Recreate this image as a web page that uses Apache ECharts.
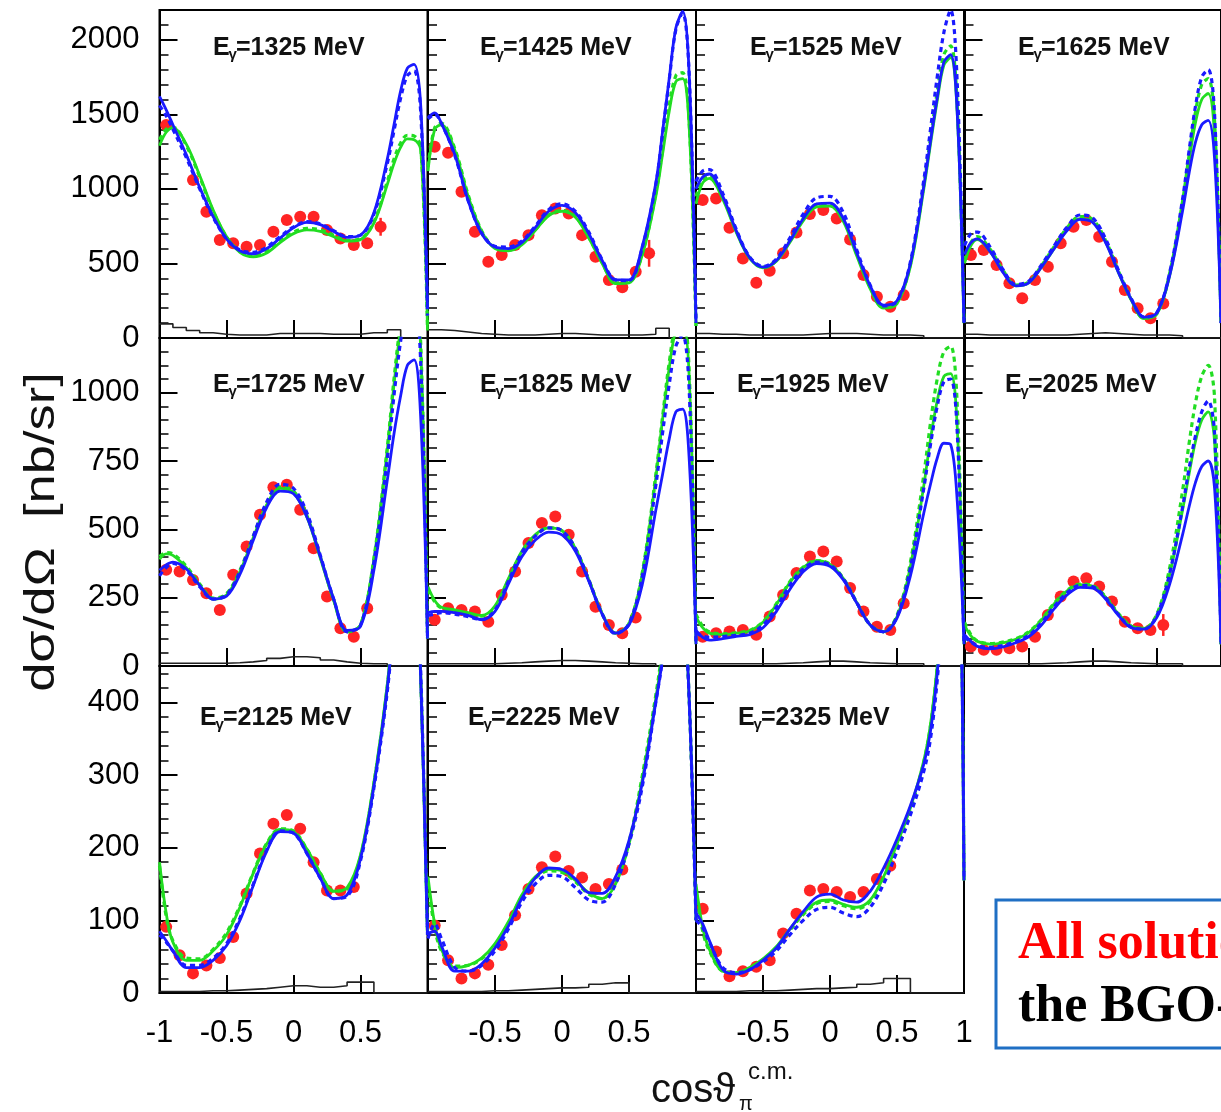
<!DOCTYPE html>
<html>
<head>
<meta charset="utf-8">
<script src="https://cdn.jsdelivr.net/npm/echarts@6/dist/echarts.min.js"></script>
<style>
html, body { margin: 0; padding: 0; background: #fff; }
#chart { width: 1221px; height: 1112px; }
</style>
</head>
<body>
<div id="chart"></div>
<script>
// Photon energies of the eleven panels (MeV)
const energies = [1325, 1425, 1525, 1625, 1725, 1825, 1925, 2025, 2125, 2225, 2325];

// cos(theta) grid on which the model curves are tabulated
const curveX = [-1, -0.95, -0.9, -0.8, -0.7, -0.6, -0.5, -0.4, -0.3, -0.2, -0.1, 0, 0.1, 0.2, 0.3, 0.4, 0.5, 0.6, 0.7, 0.75, 0.8, 0.85, 0.9, 0.95, 1];

// Model curves [nb/sr]: blue solid (bs), blue dashed (bd), green solid (gs), green dashed (gd)
const bs1325 = [1620,1530,1430,1230,1010,815,665,585,565,600,670,740,775,760,715,675,690,840,1200,1430,1660,1810,1835,1550,200];
const bd1325 = [1560,1490,1400,1210,1000,810,665,590,575,610,680,745,780,765,720,680,690,830,1170,1390,1610,1760,1790,1500,150];
const gs1325 = [1290,1380,1410,1300,1090,860,680,575,545,570,640,700,725,715,680,650,660,770,1030,1170,1280,1335,1330,1260,50];
const gd1325 = [1330,1400,1415,1290,1080,850,680,580,555,585,650,710,735,725,690,655,665,780,1050,1200,1310,1360,1355,1280,60];

const bs1425 = [1480,1510,1440,1230,920,700,610,600,640,740,850,890,840,700,520,390,390,620,1040,1380,1740,2080,2190,1750,100];
const bd1425 = [1470,1500,1440,1225,920,705,615,610,650,750,860,900,850,710,525,390,385,610,1030,1370,1730,2070,2180,1750,100];
const gs1425 = [1120,1400,1430,1260,950,715,600,585,625,720,820,850,810,670,500,365,370,560,950,1230,1520,1720,1740,1400,80];
const gd1425 = [1150,1410,1440,1270,960,720,605,590,630,725,825,855,815,675,505,370,375,570,970,1260,1560,1760,1780,1430,80];

const bs1525 = [1000,1080,1100,950,720,540,475,520,650,800,900,905,800,570,350,220,250,500,1020,1320,1610,1850,1900,1500,100];
const bd1525 = [1050,1120,1130,970,730,545,480,530,670,830,940,950,840,590,355,215,245,510,1060,1400,1750,2050,2200,1700,100];
const gs1525 = [900,1040,1070,930,710,535,470,515,640,785,880,885,780,550,330,200,230,480,1000,1300,1590,1830,1880,1500,100];
const gd1525 = [950,1060,1090,945,720,540,475,520,650,800,895,900,795,565,340,205,240,495,1030,1340,1650,1900,1960,1550,100];

const bs1625 = [560,640,665,580,440,350,370,475,600,720,795,775,640,440,260,140,170,420,850,1100,1310,1430,1460,1200,100];
const bd1625 = [620,700,710,610,460,360,380,490,620,745,825,805,665,455,265,140,170,440,930,1250,1550,1750,1800,1500,100];
const gs1625 = [500,620,660,580,445,350,370,475,600,725,800,780,645,440,255,130,160,420,890,1180,1440,1600,1640,1350,100];
const gd1625 = [520,640,680,595,455,355,375,485,615,740,815,795,655,450,260,135,165,435,915,1220,1510,1700,1740,1450,100];

const bs1725 = [350,370,380,355,295,245,255,335,460,580,640,630,545,400,245,130,145,350,680,850,990,1100,1120,900,100];
const bd1725 = [330,360,375,350,290,245,260,345,475,600,665,650,560,405,245,125,150,380,760,990,1190,1320,1340,1100,100];
const gs1725 = [390,410,405,360,295,245,260,345,470,590,650,635,545,395,240,125,150,390,790,1030,1240,1380,1400,1150,100];
const gd1725 = [400,415,410,365,300,248,265,350,475,595,655,640,550,400,242,125,150,395,800,1050,1260,1400,1420,1170,100];

const bs1825 = [195,200,200,195,185,170,200,300,400,460,490,480,420,310,190,120,150,300,570,700,830,930,940,750,80];
const bd1825 = [185,190,195,190,180,170,205,310,415,475,505,495,430,315,190,118,155,330,660,850,1030,1170,1210,1000,80];
const gs1825 = [290,240,215,205,195,185,220,320,420,480,505,495,430,315,192,120,155,340,690,900,1090,1230,1260,1050,80];
const gd1825 = [280,235,212,200,190,182,215,315,415,478,505,495,430,315,192,120,155,345,700,910,1110,1250,1280,1070,80];

const bs1925 = [130,105,95,100,108,115,140,200,280,345,375,365,315,230,150,125,175,330,560,665,760,815,810,600,80];
const bd1925 = [120,110,105,108,112,120,150,215,295,355,380,370,318,232,150,125,180,360,650,810,950,1040,1050,850,80];
const gs1925 = [180,140,120,115,120,128,160,225,305,360,385,372,320,232,150,125,180,365,660,830,970,1060,1070,870,80];
const gd1925 = [190,145,125,118,122,130,162,228,308,362,386,373,320,232,150,126,185,380,700,890,1050,1150,1170,950,80];

const bs2025 = [115,90,72,63,70,85,107,150,210,260,288,285,245,185,140,135,178,300,480,580,670,730,750,650,80];
const bd2025 = [105,88,75,68,75,90,112,158,218,268,295,290,250,188,142,135,185,340,580,720,840,930,970,850,80];
const gs2025 = [150,110,90,80,85,98,122,168,228,275,298,292,252,190,145,138,185,335,570,700,820,900,930,820,80];
const gd2025 = [160,115,92,82,88,100,125,170,230,277,300,294,254,192,146,138,190,360,640,810,960,1060,1100,980,80];

const bs2125 = [85,72,58,35,35,45,65,100,148,195,222,220,192,158,130,135,185,285,420,520,620,700,650,430,80];
const bd2125 = [80,70,58,38,38,48,68,103,150,197,223,220,192,158,130,133,182,282,415,515,615,700,660,440,80];
const gs2125 = [180,110,70,45,45,58,80,118,165,205,225,222,198,165,140,145,190,290,425,525,625,700,650,430,80];
const gd2125 = [175,105,72,48,47,60,83,120,166,206,226,223,198,165,140,143,188,288,422,522,622,700,650,430,80];

const bs2225 = [82,85,65,30,30,40,62,92,130,158,172,170,157,138,137,160,210,290,400,460,550,600,560,400,100];
const bd2225 = [75,95,75,35,30,38,58,88,125,150,162,160,145,128,125,150,205,285,400,460,550,600,560,400,100];
const gs2225 = [160,95,60,35,38,48,68,98,135,160,170,168,155,138,130,150,205,295,405,470,555,600,560,400,100];
const gd2225 = [150,90,58,37,38,47,66,96,133,158,168,166,153,136,130,152,208,300,410,475,560,600,560,400,100];

const bs2325 = [110,95,72,32,26,32,45,62,88,112,132,136,128,125,140,172,212,258,315,360,440,560,650,650,155];
const bd2325 = [100,90,70,35,28,32,43,58,80,100,115,118,110,105,118,150,195,245,305,350,430,550,650,650,155];
const gs2325 = [150,90,60,30,28,35,47,64,88,110,125,128,122,118,128,160,205,255,320,370,450,570,660,660,155];
const gd2325 = [140,85,58,30,28,34,46,62,86,108,123,126,120,116,126,158,202,252,318,368,448,568,660,660,155];

// Measured points: cos(theta) bin centres and cross sections [nb/sr]
const dataXWide = [-0.95,-0.85,-0.75,-0.65,-0.55,-0.45,-0.35,-0.25,-0.15,-0.05,0.05,0.15,0.25,0.35,0.45,0.55,0.65];
const dataXNarrow = [-0.95,-0.85,-0.75,-0.65,-0.55,-0.45,-0.35,-0.25,-0.15,-0.05,0.05,0.15,0.25,0.35,0.45];

const pts1325 = [1428,null,1059,847,657,635,612,623,713,791,813,813,724,668,623,635,746];
const pts1425 = [1282,1242,981,713,511,556,623,690,824,869,835,690,545,389,340,445,568];
const pts1525 = [925,936,739,534,371,451,568,708,831,858,802,661,422,277,210,288,null];
const pts1625 = [556,590,489,367,266,389,478,635,746,791,679,511,322,199,132,232,null];
const pts1725 = [352,346,315,266,205,334,437,553,654,663,572,431,254,138,107,211,null];
const pts1825 = [169,211,205,199,162,260,346,450,523,547,480,346,217,150,120,177,null];
const pts1925 = [107,120,126,132,114,181,260,340,401,419,382,285,199,144,132,230,null];
const pts2025 = [71,59,59,65,71,107,187,254,309,321,291,236,162,138,132,150,null];
const pts2125 = [91,52,27,38,48,77,137,192,233,245,226,180,141,141,146];
const pts2225 = [93,45,20,27,39,66,107,143,173,188,168,159,143,150,170];
const pts2325 = [116,57,23,30,36,45,82,109,141,143,139,132,139,157,175];

// Visible statistical errors: [panel index, point index, error in nb/sr]
const errorBars = [[0, 16, 60], [1, 16, 90], [7, 15, 40]];

// Systematic-error histograms, 20 bins of width 0.1 from cos = -1
const histEdges = [-1,-0.9,-0.8,-0.7,-0.6,-0.5,-0.4,-0.3,-0.2,-0.1,0,0.1,0.2,0.3,0.4,0.5,0.6,0.7,0.8,0.9,1];
const hist1325 = [95,70,50,35,25,20,20,20,30,30,30,30,25,25,25,35,35,55,0,0];
const hist1425 = [55,50,40,30,25,20,20,20,25,30,30,25,20,20,20,20,25,65,0,0];
const hist1525 = [30,25,25,20,20,20,20,20,25,30,30,30,25,20,20,20,15,0,0,0];
const hist1625 = [25,20,20,20,20,20,20,20,25,30,35,30,25,20,20,20,15,0,0,0];
const hist1725 = [10,10,10,10,10,12,15,20,28,34,34,30,22,15,10,8,8,0,0,0];
const hist1825 = [8,8,8,8,8,10,12,15,18,20,20,18,15,12,10,8,8,0,0,0];
const hist1925 = [8,8,8,8,8,8,10,12,15,18,18,15,12,10,8,8,8,0,0,0];
const hist2025 = [8,8,8,8,8,8,10,12,15,18,18,15,12,10,8,8,8,0,0,0];
const hist2125 = [2,2,2,3,3,4,5,6,8,10,10,8,8,10,15,15,0,0,0,0];
const hist2225 = [2,2,2,2,3,3,4,5,6,7,7,8,12,14,14,0,0,0,0,0];
const hist2325 = [2,2,2,3,3,3,4,5,6,6,7,8,12,14,20,20,0,0,0,0];

// Y-axis tick labels per row
const yTicksRow1 = [0, 500, 1000, 1500, 2000];
const yTicksRow2 = [0, 250, 500, 750, 1000];
const yTicksRow3 = [0, 100, 200, 300, 400];

const blueSolid = [bs1325, bs1425, bs1525, bs1625, bs1725, bs1825, bs1925, bs2025, bs2125, bs2225, bs2325];
const blueDashed = [bd1325, bd1425, bd1525, bd1625, bd1725, bd1825, bd1925, bd2025, bd2125, bd2225, bd2325];
const greenSolid = [gs1325, gs1425, gs1525, gs1625, gs1725, gs1825, gs1925, gs2025, gs2125, gs2225, gs2325];
const greenDashed = [gd1325, gd1425, gd1525, gd1625, gd1725, gd1825, gd1925, gd2025, gd2125, gd2225, gd2325];
const points = [pts1325, pts1425, pts1525, pts1625, pts1725, pts1825, pts1925, pts2025, pts2125, pts2225, pts2325];
const hists = [hist1325, hist1425, hist1525, hist1625, hist1725, hist1825, hist1925, hist2025, hist2125, hist2225, hist2325];
const yTicks = [yTicksRow1, yTicksRow2, yTicksRow3];

// ---- layout ----
const SANS = '"Liberation Sans", Arial, Helvetica, sans-serif';
const SERIF = '"Liberation Serif", "Times New Roman", serif';
const colLeft = [159.5, 428, 696, 964.5];
const rowTop = [10, 338, 666];
const rowHeight = [328, 328, 327];
const panelWidth = 268;
const rowMax = [2200, 1200, 450];
const rowStep = [500, 250, 100];
const labelPos = [[213,48],[480,48],[750,48],[1018,48],[213,385],[480,385],[737,385],[1005,385],[200,718],[468,718],[738,718]];

const BLUE = '#1a1aff';
const GREEN = '#22dd22';
const RED = '#ff2424';

const grids = [], xAxes = [], yAxes = [], series = [], graphics = [];

energies.forEach((e, i) => {
  const row = Math.floor(i / 4), col = i % 4;
  grids.push({
    left: colLeft[col], top: rowTop[row], width: panelWidth, height: rowHeight[row],
    show: true, borderColor: '#000', borderWidth: 2, backgroundColor: 'transparent'
  });
  const showX = row === 2;
  xAxes.push({
    gridIndex: i, type: 'value', min: -1, max: 1, interval: 0.5,
    axisLine: { show: true, onZero: false, lineStyle: { color: '#000', width: 2 } },
    axisTick: { show: true, inside: true, length: 18, lineStyle: { color: '#000', width: 2 } },
    splitLine: { show: false },
    axisLabel: {
      show: showX, margin: 25, color: '#000', fontFamily: SANS, fontSize: 31,
      formatter: v => {
        if (col === 0 && v === 1) return '';
        if (col === 1 && (v === -1 || v === 1)) return '';
        if (col === 2 && v === -1) return '';
        return String(v).replace('\u2212', '-');
      }
    }
  });
  const ticks = yTicks[row];
  yAxes.push({
    gridIndex: i, type: 'value', min: 0, max: rowMax[row], interval: rowStep[row],
    axisLine: { show: true, onZero: false, lineStyle: { color: '#000', width: 2 } },
    axisTick: { show: true, inside: true, length: 18, lineStyle: { color: '#000', width: 2 } },
    minorTick: { show: true, splitNumber: 5, length: 9, lineStyle: { color: '#000', width: 1.5 } },
    splitLine: { show: false }, minorSplitLine: { show: false },
    axisLabel: {
      show: col === 0, margin: 20, color: '#000', fontFamily: SANS, fontSize: 31,
      formatter: v => ticks.indexOf(v) >= 0 ? String(v) : ''
    }
  });

  // systematic histogram (step line)
  const h = hists[i];
  const hData = histEdges.map((x, k) => [x, k < h.length ? h[k] : h[h.length - 1]]);
  series.push({
    type: 'line', xAxisIndex: i, yAxisIndex: i, step: 'end', data: hData,
    showSymbol: false, symbol: 'none', clip: true, z: 2,
    lineStyle: { color: '#222', width: 1.6 }, silent: true
  });

  // measured points
  const px = row === 2 ? dataXNarrow : dataXWide;
  const pData = [];
  points[i].forEach((v, k) => { if (v !== null) pData.push([px[k], v]); });
  series.push({
    type: 'scatter', xAxisIndex: i, yAxisIndex: i, data: pData,
    symbol: 'circle', symbolSize: 12, itemStyle: { color: RED, opacity: 1 }, z: 3, clip: true, silent: true
  });

  // error bars
  const eData = errorBars.filter(b => b[0] === i).map(b => [px[b[1]], points[i][b[1]], b[2]]);
  if (eData.length) {
    series.push({
      type: 'custom', xAxisIndex: i, yAxisIndex: i, data: eData, z: 3, silent: true,
      renderItem: (params, api) => {
        const x = api.value(0), y = api.value(1), er = api.value(2);
        const a = api.coord([x, y - er]), b = api.coord([x, y + er]);
        return { type: 'line', shape: { x1: a[0], y1: a[1], x2: b[0], y2: b[1] }, style: { stroke: RED, lineWidth: 2.5 } };
      }
    });
  }

  // model curves
  const curve = (vals, color, dashed, z) => ({
    type: 'line', xAxisIndex: i, yAxisIndex: i,
    data: curveX.map((x, k) => [x, vals[k]]),
    smooth: 0.35, showSymbol: false, symbol: 'none', clip: true, z: z, silent: true,
    lineStyle: { color: color, width: dashed ? 3.2 : 2.8, type: dashed ? [5, 4] : 'solid' }
  });
  series.push(curve(greenSolid[i], GREEN, false, 4));
  series.push(curve(greenDashed[i], GREEN, true, 5));
  series.push(curve(blueSolid[i], BLUE, false, 6));
  series.push(curve(blueDashed[i], BLUE, true, 7));

  // panel caption  E_gamma = ... MeV
  const [lx, ly] = labelPos[i];
  graphics.push({
    type: 'group', x: lx, y: ly, z: 20,
    children: [
      { type: 'text', x: 0, y: 0, style: { text: 'E', font: 'bold 25px ' + SANS, fill: '#111', textAlign: 'left', textVerticalAlign: 'middle', align: 'left', verticalAlign: 'middle' } },
      { type: 'text', x: 15.5, y: 7, style: { text: '\u03b3', font: 'bold 15px ' + SANS, fill: '#111', textAlign: 'left', textVerticalAlign: 'middle', align: 'left', verticalAlign: 'middle' } },
      { type: 'text', x: 23, y: 0, style: { text: '=' + e + ' MeV', font: 'bold 25px ' + SANS, fill: '#111', textAlign: 'left', textVerticalAlign: 'middle', align: 'left', verticalAlign: 'middle' } }
    ]
  });
});

// axis titles
graphics.push({
  type: 'text', x: 42, y: 532, rotation: Math.PI / 2, scaleX: 1.25, z: 20,
  style: { text: 'd\u03c3/d\u03a9  [nb/sr]', font: '42px ' + SANS, fill: '#111', textAlign: 'center', textVerticalAlign: 'middle', align: 'center', verticalAlign: 'middle' }
});
graphics.push({
  type: 'group', x: 651, y: 1091, z: 20,
  children: [
    { type: 'text', x: 0, y: 0, style: { text: 'cos\u03d1', font: '40px ' + SANS, fill: '#111', textAlign: 'left', textVerticalAlign: 'middle', align: 'left', verticalAlign: 'middle' } },
    { type: 'text', x: 88, y: 13, style: { text: '\u03c0', font: '20px ' + SANS, fill: '#111', textAlign: 'left', textVerticalAlign: 'middle', align: 'left', verticalAlign: 'middle' } },
    { type: 'text', x: 97, y: -19, style: { text: 'c.m.', font: '24px ' + SANS, fill: '#111', textAlign: 'left', textVerticalAlign: 'middle', align: 'left', verticalAlign: 'middle' } }
  ]
});

// annotation box
graphics.push({
  type: 'rect', z: 30, shape: { x: 996, y: 900, width: 420, height: 148 },
  style: { fill: '#fff', stroke: '#1f6fc4', lineWidth: 3 }
});
graphics.push({
  type: 'text', x: 1018, y: 945, z: 31,
  style: { text: 'All solutions describe', font: 'bold 52px ' + SERIF, fill: '#ff0000', textAlign: 'left', textVerticalAlign: 'middle', align: 'left', verticalAlign: 'middle' }
});
graphics.push({
  type: 'text', x: 1018, y: 1008, z: 31,
  style: { text: 'the BGO-OD data', font: 'bold 52px ' + SERIF, fill: '#000', textAlign: 'left', textVerticalAlign: 'middle', align: 'left', verticalAlign: 'middle' }
});

const chart = echarts.init(document.getElementById('chart'), null, { renderer: 'canvas' });
chart.setOption({
  animation: false,
  backgroundColor: '#fff',
  grid: grids, xAxis: xAxes, yAxis: yAxes, series: series, graphic: graphics
});
</script>
</body>
</html>
